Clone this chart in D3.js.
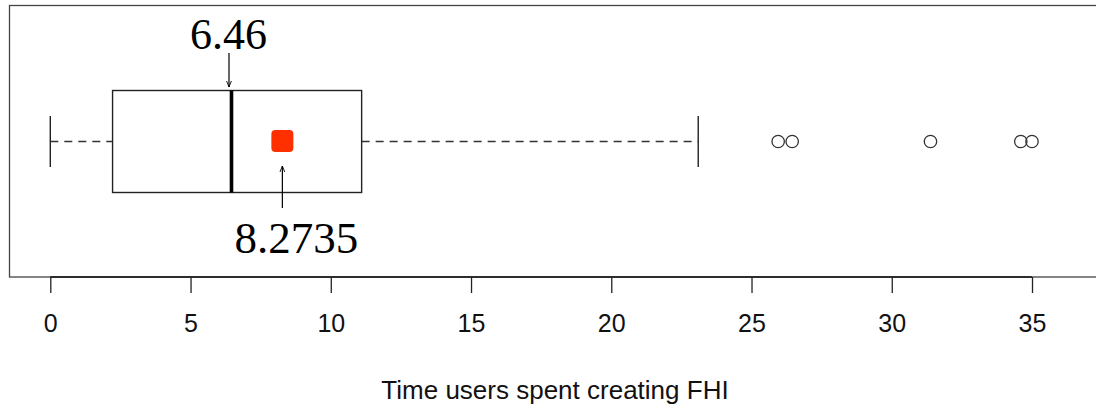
<!DOCTYPE html>
<html>
<head>
<meta charset="utf-8">
<script src="https://cdn.jsdelivr.net/npm/d3@7"></script>
<style>
  html, body { margin: 0; padding: 0; background: #fff; }
  svg { display: block; }
</style>
</head>
<body>
<svg id="chart" width="1096" height="408"></svg>
<script>
// ---- data ----
const tickValues = [0, 5, 10, 15, 20, 25, 30, 35];
const whiskers = [0, 23.1];          // lower, upper whisker ends
const quartiles = [2.22, 11.1];      // Q1, Q3
const medianValue = [6.46];
const meanValue = [8.2735];
const outliers = [25.95, 26.45, 31.38, 34.6, 35.0];
const axisTitle = ["Time users spent creating FHI"];

const svg = d3.select("#chart");
const x = d3.scaleLinear().domain([0, 35]).range([50.3, 1032]);
const yMid = 141.5, boxHalf = 51, capHalf = 25.5;

// frame
svg.append("rect")
  .attr("x", 9.5).attr("y", 5.5).attr("width", 1100).attr("height", 271.5)
  .attr("fill", "none").attr("stroke", "#444").attr("stroke-width", 1.3);

// dashed whiskers
const whiskerSegs = [[whiskers[0], quartiles[0]], [quartiles[1], whiskers[1]]];
svg.selectAll(".whisker").data(whiskerSegs).enter().append("line")
  .attr("x1", d => x(d[0])).attr("x2", d => x(d[1]))
  .attr("y1", yMid).attr("y2", yMid)
  .attr("stroke", "#333").attr("stroke-width", 1.3)
  .attr("stroke-dasharray", "8,6");

// whisker caps
svg.selectAll(".cap").data(whiskers).enter().append("line")
  .attr("x1", d => x(d)).attr("x2", d => x(d))
  .attr("y1", yMid - capHalf).attr("y2", yMid + capHalf)
  .attr("stroke", "#222").attr("stroke-width", 1.4);

// box
svg.append("rect")
  .attr("x", x(quartiles[0])).attr("y", yMid - boxHalf)
  .attr("width", x(quartiles[1]) - x(quartiles[0])).attr("height", 2 * boxHalf)
  .attr("fill", "#fff").attr("stroke", "#222").attr("stroke-width", 1.4);

// median
svg.selectAll(".median").data(medianValue).enter().append("line")
  .attr("x1", d => x(d)).attr("x2", d => x(d))
  .attr("y1", yMid - boxHalf).attr("y2", yMid + boxHalf)
  .attr("stroke", "#000").attr("stroke-width", 3.6);

// mean square
svg.selectAll(".mean").data(meanValue).enter().append("rect")
  .attr("x", d => x(d) - 11).attr("y", yMid - 11.5)
  .attr("width", 22).attr("height", 22).attr("rx", 4)
  .attr("fill", "#ff3000");

// outliers
svg.selectAll(".out").data(outliers).enter().append("circle")
  .attr("cx", d => x(d)).attr("cy", yMid).attr("r", 6.2)
  .attr("fill", "none").attr("stroke", "#333").attr("stroke-width", 1.3);

// arrowhead marker
const defs = svg.append("defs");
defs.append("marker").attr("id", "ah")
  .attr("viewBox", "0 0 10 10").attr("refX", 10).attr("refY", 5)
  .attr("markerWidth", 7).attr("markerHeight", 6).attr("markerUnits", "userSpaceOnUse")
  .attr("orient", "auto")
  .append("path").attr("d", "M0,1 L10,5 L0,9").attr("fill", "none")
  .attr("stroke", "#000").attr("stroke-width", 1.5);

// annotation: median
svg.selectAll(".medArrow").data(medianValue).enter().append("line")
  .attr("x1", d => x(d) - 2.5).attr("x2", d => x(d) - 2.5)
  .attr("y1", 53).attr("y2", 87)
  .attr("stroke", "#000").attr("stroke-width", 1.2).attr("marker-end", "url(#ah)");
svg.selectAll(".medLabel").data(medianValue).enter().append("text")
  .attr("x", d => x(d) - 3).attr("y", 49)
  .attr("text-anchor", "middle")
  .attr("font-family", "'Liberation Serif', 'Times New Roman', serif")
  .attr("font-size", 44).attr("fill", "#000")
  .text(d => d3.format(".2f")(d));

// annotation: mean
svg.selectAll(".meanArrow").data(meanValue).enter().append("line")
  .attr("x1", d => x(d)).attr("x2", d => x(d))
  .attr("y1", 208).attr("y2", 166)
  .attr("stroke", "#000").attr("stroke-width", 1.2).attr("marker-end", "url(#ah)");
svg.selectAll(".meanLabel").data(meanValue).enter().append("text")
  .attr("x", d => x(d) + 14).attr("y", 253)
  .attr("text-anchor", "middle")
  .attr("font-family", "'Liberation Serif', 'Times New Roman', serif")
  .attr("font-size", 45).attr("fill", "#000")
  .text(d => d3.format(".4f")(d));

// x axis
const axis = d3.axisBottom(x).tickValues(tickValues).tickSize(16).tickPadding(21)
  .tickFormat(d3.format("d"));
const gAxis = svg.append("g").attr("transform", "translate(0,277)").call(axis);
gAxis.select(".domain").attr("stroke", "#111").attr("stroke-width", 1.6)
  .attr("d", `M${x(0)},0H${x(35)}`);
gAxis.selectAll(".tick line").attr("stroke", "#222").attr("stroke-width", 1.3);
gAxis.selectAll(".tick text")
  .attr("font-family", "'Liberation Sans', Arial, Helvetica, sans-serif")
  .attr("font-size", 25).attr("fill", "#111");

// axis title
svg.selectAll(".xtitle").data(axisTitle).enter().append("text")
  .attr("x", 555).attr("y", 398.5)
  .attr("text-anchor", "middle")
  .attr("font-family", "'Liberation Sans', Arial, Helvetica, sans-serif")
  .attr("font-size", 26).attr("fill", "#111")
  .text(d => d);
</script>
</body>
</html>
